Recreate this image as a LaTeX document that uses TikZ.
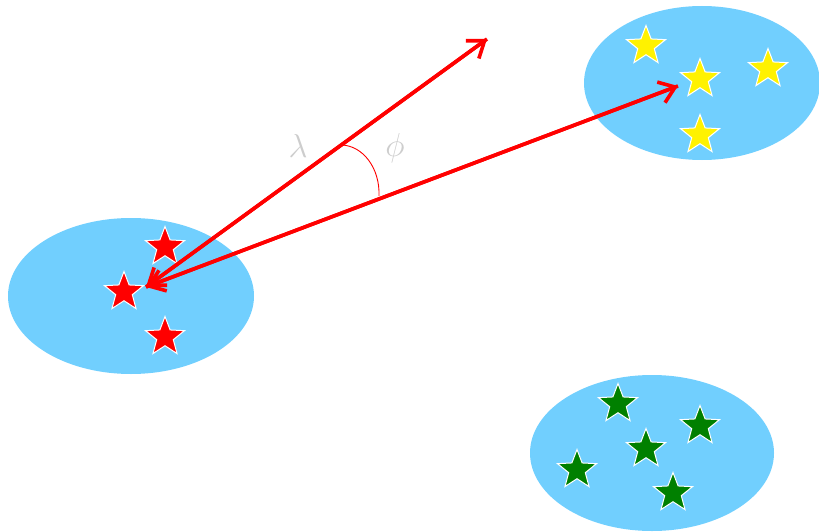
\documentclass[tikz,border=0pt]{standalone}
\usepackage{graphicx}
\usetikzlibrary{shapes.geometric,arrows.meta}
\definecolor{blob}{RGB}{113,207,254}
\definecolor{labelgray}{RGB}{205,205,205}
\tikzset{
  cluster/.style={ellipse, fill=blob, draw=none, inner sep=0pt},
  pt/.style={star, star points=5, star point ratio=2.35, minimum size=41pt,
             inner sep=0pt, draw=white, line width=1pt},
  redpt/.style={pt, fill=red},
  yelpt/.style={pt, fill=yellow},
  grnpt/.style={pt, fill={rgb,255:red,0;green,128;blue,0}},
  vec/.style={draw=red, line width=3.6pt,
              arrows={-Straight Barb[length=15pt,width=22pt,line width=3.6pt]}},
  angle label/.style={text=labelgray, font=\fontsize{20}{20}\selectfont}
}
\newcommand{\biglabel}[1]{\scalebox{1.6}{$#1$}}
\begin{document}
\begin{tikzpicture}[x=1pt,y=-1pt]
\useasboundingbox (0,0) rectangle (819,532);

% clusters
\node[cluster, minimum width=246pt, minimum height=156pt] (cl) at (131,296) {};
\node[cluster, minimum width=236pt, minimum height=154pt] (ct) at (702,83) {};
\node[cluster, minimum width=244pt, minimum height=156pt] (cb) at (652,453) {};

% red points
\node[redpt] (r1) at (165,247) {};
\node[redpt] (r2) at (124,292) {};
\node[redpt] (r3) at (165,337) {};

% yellow points
\node[yelpt] (y1) at (646,46) {};
\node[yelpt] (y2) at (700,79) {};
\node[yelpt] (y3) at (768,69) {};
\node[yelpt] (y4) at (700,135) {};

% green points
\node[grnpt] (g1) at (618,404) {};
\node[grnpt] (g2) at (700,426) {};
\node[grnpt] (g3) at (646,449) {};
\node[grnpt] (g4) at (577,470) {};
\node[grnpt] (g5) at (673,493) {};

% vectors
\coordinate (o) at (146,287);
\coordinate (lamEnd) at (487,39);
\coordinate (phiEnd) at (678,86);
\draw[vec] (lamEnd) -- (o);
\draw[vec] (phiEnd) -- (o);
\draw[vec] (o) -- (lamEnd);
\draw[vec] (o) -- (phiEnd);

% angle between the vectors
\coordinate (a1) at (342,145);
\coordinate (a2) at (379,196);
\draw[red, line width=0.9pt] (a1) .. controls (363,146) and (380,168) .. (a2);

\node[angle label] (lam) at (298,146) {\biglabel{\lambda}};
\node[angle label] (phi) at (395,148) {\biglabel{\phi}};
\end{tikzpicture}
\end{document}
